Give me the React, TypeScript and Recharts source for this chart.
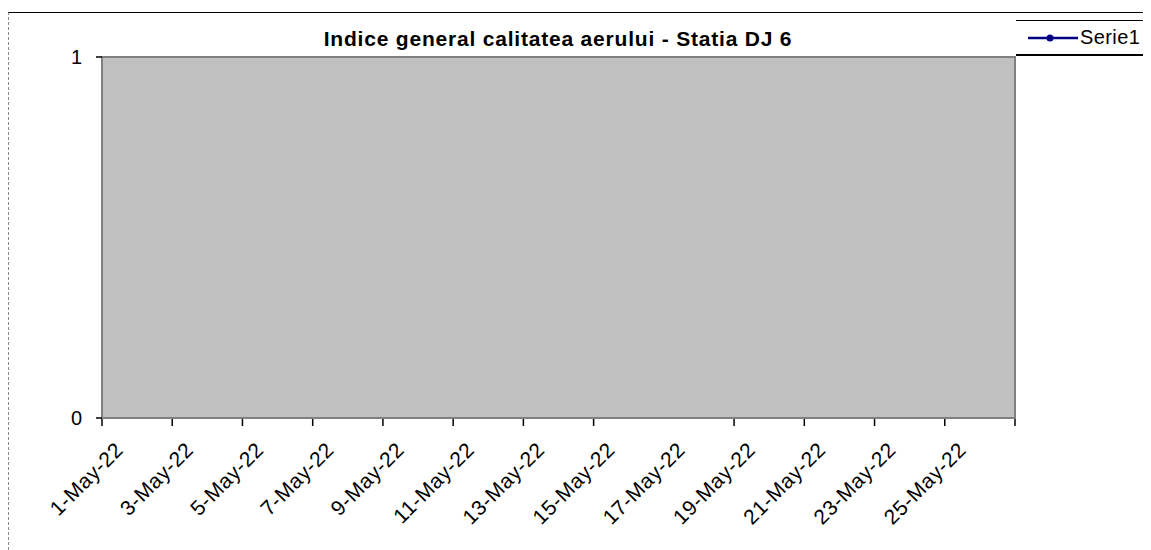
import { ComposedChart, Line, XAxis, YAxis, ReferenceArea, CartesianGrid } from 'recharts';

const DAYS = [
  '1-May-22', '2-May-22', '3-May-22', '4-May-22', '5-May-22', '6-May-22', '7-May-22',
  '8-May-22', '9-May-22', '10-May-22', '11-May-22', '12-May-22', '13-May-22', '14-May-22',
  '15-May-22', '16-May-22', '17-May-22', '18-May-22', '19-May-22', '20-May-22', '21-May-22',
  '22-May-22', '23-May-22', '24-May-22', '25-May-22', '26-May-22',
];
// no readings shown for the station in this period
const SERIE1: (number | null)[] = [
  null, null, null, null, null, null, null, null, null, null, null, null, null,
  null, null, null, null, null, null, null, null, null, null, null, null, null,
];
const Y_TICKS = [0, 1];
// category boundaries where tick marks are drawn (the one at 16 is missing in the original)
const TICK_BOUNDS = [0, 2, 4, 6, 8, 10, 12, 14, 18, 20, 22, 24, 26];

const FONT = '"Liberation Sans", Arial, sans-serif';

// slot = centre of each day's category on the boundary axis
const data = DAYS.map((d, i) => ({ day: d, slot: i + 0.5, Serie1: SERIE1[i] }));

function DateTick({ x, y, payload }: any) {
  const ax = x + 5;
  return (
    <text x={ax} y={y} transform={`rotate(-45 ${ax} ${y})`} textAnchor="end"
      fontSize={21} letterSpacing={0.6} fontFamily={FONT} fill="#000">
      {payload.value}
    </text>
  );
}

function LegendBox() {
  return (
    <div style={{ position: 'absolute', left: 1008, top: 12, width: 127, height: 33,
      borderTop: '1px solid #000', borderBottom: '2px solid #000',
      display: 'flex', alignItems: 'center', fontFamily: FONT, fontSize: 20, letterSpacing: 0.4 }}>
      <svg width={64} height={20}>
        <line x1={12} y1={10} x2={62} y2={10} stroke="#000080" strokeWidth={2.5} />
        <circle cx={34} cy={10} r={3.5} fill="#000080" />
      </svg>
      <span>Serie1</span>
    </div>
  );
}

export default function App() {
  return (
    <div style={{ position: 'relative', width: 1143, height: 542 }}>
      <div style={{ position: 'absolute', left: 0, top: 4, width: 1143, height: 538,
        borderTop: '1px solid #000', borderLeft: '1px dashed #888', boxSizing: 'border-box' }} />
      <div style={{ position: 'absolute', left: 250, top: 20, width: 600, textAlign: 'center',
        fontFamily: FONT, fontSize: 21, fontWeight: 'bold', lineHeight: '21px', letterSpacing: 0.8 }}>
        Indice general calitatea aerului - Statia DJ 6
      </div>
      <LegendBox />
      <div style={{ position: 'absolute', left: 0, top: 0 }}>
        <ComposedChart width={1143} height={542} data={data}
          margin={{ top: 49, right: 136, left: 0, bottom: 130 }}>
          <CartesianGrid fill="#C0C0C0" fillOpacity={1} vertical={false} horizontal={false} />
          <XAxis xAxisId="tk" type="number" dataKey="slot" domain={[0, 26]} ticks={TICK_BOUNDS}
            allowDataOverflow height={1} axisLine={false} tickSize={7}
            tickLine={{ stroke: '#000', strokeWidth: 1.5 }} tickFormatter={() => ''} />
          <XAxis xAxisId="lab" dataKey="day" scale="band" interval={1} height={1} axisLine={false}
            tickLine={false} tickSize={0} tickMargin={33} tick={<DateTick />} />
          <YAxis domain={[0, 1]} ticks={Y_TICKS} width={94} axisLine={false} allowDataOverflow
            type="number" tickSize={6} tickMargin={14} tickLine={{ stroke: '#000', strokeWidth: 1.5 }}
            tick={{ fontSize: 20, fontFamily: FONT, fill: '#000' }} />
          <ReferenceArea xAxisId="lab" y1={0} y2={1} ifOverflow="visible"
            fill="none" stroke="#808080" strokeWidth={2} />
          <Line xAxisId="lab" dataKey="Serie1" stroke="#000080" strokeWidth={2.5}
            dot={{ r: 3.5, fill: '#000080' }} isAnimationActive={false} />
        </ComposedChart>
      </div>
    </div>
  );
}
